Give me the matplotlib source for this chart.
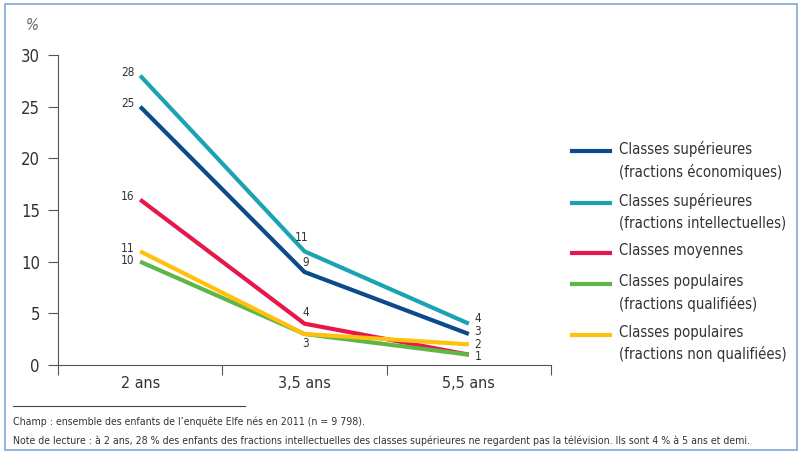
import matplotlib
matplotlib.use("Agg")
import matplotlib.pyplot as plt
from matplotlib.lines import Line2D
from matplotlib.patches import Rectangle

plt.rcParams['font.family'] = ['DejaVu Sans']
plt.rcParams['font.stretch'] = 'condensed'

# -----------------------------------
# Data
# -----------------------------------
ages = ["2 ans", "3,5 ans", "5,5 ans"]

sup_eco = [25, 9, 3]
sup_intel = [28, 11, 4]
moyennes = [16, 4, 1]
pop_qual = [10, 3, 1]
pop_non_qual = [11, 3, 2]

series_labels = [
    "Classes supérieures\n(fractions économiques)",
    "Classes supérieures\n(fractions intellectuelles)",
    "Classes moyennes",
    "Classes populaires\n(fractions qualifiées)",
    "Classes populaires\n(fractions non qualifiées)",
]
colors = ["#0b4a8b", "#1ba3b4", "#e8174b", "#5db645", "#ffc10e"]

# label offsets (points) for each series at each age
offsets = [
    [(-4, 2), (1, 7), (4, 2)],
    [(-4, 2), (-2, 10), (4, 4)],
    [(-4, 2), (1, 8), None],
    [(-4, 1), (1, -7), (4, -1)],
    [(-4, 2), None, (4, 0)],
]

TXT = "#333333"

fig = plt.figure(figsize=(8.01, 4.59), dpi=100)
ax = fig.add_axes([58 / 801, 1 - 365 / 459, (551 - 58) / 801, (365 - 55) / 459])

x = list(range(len(ages)))
all_series = [sup_eco, sup_intel, moyennes, pop_qual, pop_non_qual]

for vals, col, offs in zip(all_series, colors, offsets):
    ax.plot(x, vals, color=col, linewidth=3, solid_capstyle='butt', zorder=3)
    for xi, v, off in zip(x, vals, offs):
        if off is None:
            continue
        ha = 'right' if off[0] < 0 else 'left'
        if xi == 1:
            ha = 'center'
        ax.annotate(str(v), (xi, v), xytext=off, textcoords='offset points',
                    ha=ha, va='center', fontsize=8.5, color=TXT)

# -----------------------------------
# Axes styling
# -----------------------------------
ax.set_xlim(-0.5, 2.5)
ax.set_ylim(0, 30)
ax.set_yticks([0, 5, 10, 15, 20, 25, 30])
ax.tick_params(axis='y', length=7, width=0.8, pad=6, labelsize=12,
               colors='#555555', labelcolor=TXT)
ax.set_xticks(x)
ax.set_xticklabels(ages)
ax.tick_params(axis='x', which='major', length=0, pad=8, labelsize=11.5, labelcolor=TXT)
ax.set_xticks([-0.5, 0.5, 1.5, 2.5], minor=True)
ax.tick_params(axis='x', which='minor', length=7, width=0.8, colors='#555555')

for s in ['top', 'right']:
    ax.spines[s].set_visible(False)
for s in ['left', 'bottom']:
    ax.spines[s].set_color('#555555')
    ax.spines[s].set_linewidth(0.8)

fig.text(32 / 801, 1 - 25 / 459, "%", fontsize=11, style='italic',
         color='#666666', ha='center', va='center')

# -----------------------------------
# Legend (drawn by hand, handle aligned with first line)
# -----------------------------------
leg_y = [151, 203, 253, 284, 335]
for lab, col, yy in zip(series_labels, colors, leg_y):
    yf = 1 - yy / 459
    fig.add_artist(Line2D([572 / 801, 610 / 801], [yf, yf], color=col,
                          linewidth=3, transform=fig.transFigure))
    fig.text(619 / 801, 1 - (yy - 10) / 459, lab, fontsize=10.7, color=TXT,
             ha='left', va='top', linespacing=1.5)

# -----------------------------------
# Footer
# -----------------------------------
fig.add_artist(Line2D([13 / 801, 245 / 801], [1 - 406 / 459, 1 - 406 / 459],
                      color='#444444', linewidth=0.8, transform=fig.transFigure))
fig.text(13 / 801, 1 - 422 / 459,
         "Champ : ensemble des enfants de l’enquête Elfe nés en 2011 (n = 9 798).",
         fontsize=7.6, color=TXT, va='center')
fig.text(13 / 801, 1 - 441 / 459,
         "Note de lecture : à 2 ans, 28 % des enfants des fractions intellectuelles des classes "
         "supérieures ne regardent pas la télévision. Ils sont 4 % à 5 ans et demi.",
         fontsize=7.6, color=TXT, va='center')

fig.add_artist(Rectangle((5 / 801, 1 - 450 / 459), 792 / 801, 446 / 459,
                         fill=False, edgecolor='#7fa8d6', linewidth=1.2,
                         transform=fig.transFigure))

fig.savefig("out.png", dpi=100)
